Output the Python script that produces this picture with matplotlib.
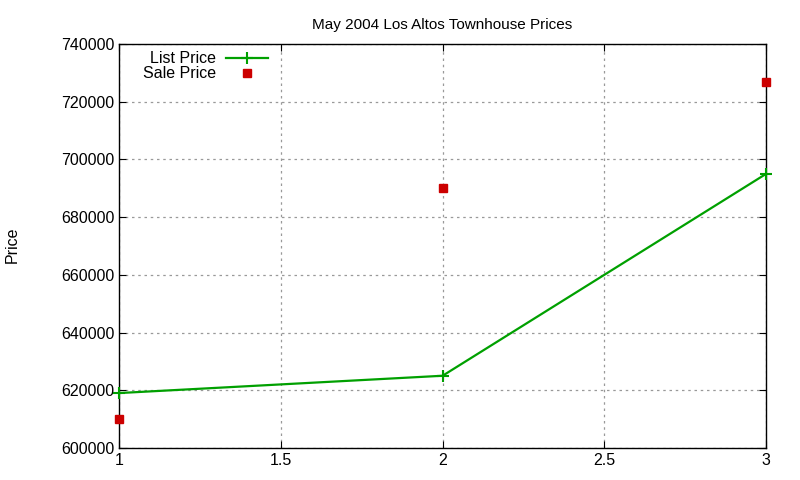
import matplotlib
matplotlib.use('Agg')
import matplotlib.pyplot as plt

x = [1, 2, 3]
list_price = [619000, 625000, 695000]
sale_price = [610000, 690000, 727000]

plt.rcParams['font.family'] = ['Liberation Sans', 'DejaVu Sans']

fig = plt.figure(figsize=(8, 4.8), dpi=100)
ax = fig.add_axes([0.149, 0.067, 0.8085, 0.841])

ax.plot(x, list_price, color='#00a000', linewidth=1.6, marker='+', markersize=9,
        markeredgewidth=1.5, label='List Price', clip_on=False, zorder=3)
ax.plot(x, sale_price, linestyle='none', marker='s', markersize=6, color='#cc0000',
        label='Sale Price', clip_on=False, zorder=3)

ax.set_xlim(1, 3)
ax.set_ylim(600000, 740000)
ax.set_xticks([1, 1.5, 2, 2.5, 3])
ax.set_xticklabels(['1', '1.5', '2', '2.5', '3'])
ax.set_yticks(range(600000, 740001, 20000))
ax.tick_params(direction='in', labelsize=11.5, top=True, right=True, length=5)
ax.grid(True, linestyle=(0, (2, 3)), color='#999999', linewidth=0.9)
for s in ax.spines.values():
    s.set_linewidth(1)

ax.set_title('May 2004 Los Altos Townhouse Prices', fontsize=11, pad=11)
fig.text(0.015, 0.49, 'Price', rotation=90, fontsize=11.5, ha='center', va='center')

leg = ax.legend(loc='upper left', bbox_to_anchor=(0.02, 1.01), frameon=False,
                fontsize=11.5, markerfirst=False, handlelength=2.6, labelspacing=0.0,
                borderaxespad=0.3, handletextpad=0.6)
for t in leg.get_texts():
    t.set_ha('right')

fig.savefig('out.png', dpi=100)
